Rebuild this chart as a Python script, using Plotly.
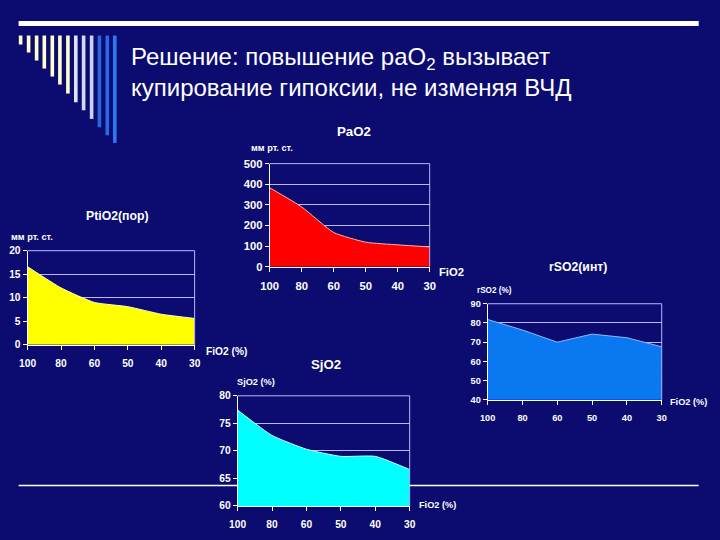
import plotly.graph_objects as go

W, H = 720, 540
BG = "#0b0b70"
GRID = "#b8b8ff"
# the photographed page comes out slightly shrunk and shifted; these undo it
SX, OX = 0.979, 8.4
SY, OY = 0.977, 6.5
K = 1.022

# FiO2 (%) categories shared by all four panels
fio2 = ["100", "80", "60", "50", "40", "30"]

pao2 = [383, 290, 166, 119, 106, 96]
ptio2 = [16.6, 12.1, 9.0, 8.1, 6.5, 5.6]
rso2 = [81.8, 76.3, 70.0, 74.2, 72.3, 67.6]
sjo2 = [77.4, 72.8, 70.3, 69.0, 69.0, 66.6]

pao2_ticks = [0, 100, 200, 300, 400, 500]
ptio2_ticks = [0, 5, 10, 15, 20]
rso2_ticks = [40, 50, 60, 70, 80, 90]
sjo2_ticks = [60, 65, 70, 75, 80]


def px(x):
    return (x - OX) / SX / W


def py(y):
    return 1 - (y - OY) / SY / H


# panel boxes in pixels: left, right, top, bottom
panels = [
    dict(y=pao2, ticks=pao2_ticks, box=(269, 429, 164, 267), fill="#ff0000",
         edge="#ffb0b0", shape="spline", fs=11),
    dict(y=ptio2, ticks=ptio2_ticks, box=(27, 194, 251, 345), fill="#ffff00",
         edge="#ffffc0", shape="spline", fs=10),
    dict(y=rso2, ticks=rso2_ticks, box=(487, 661, 304, 400), fill="#0a78f0",
         edge="#8ab8ff", shape="linear", fs=9),
    dict(y=sjo2, ticks=sjo2_ticks, box=(237, 409, 396, 506), fill="#00ffff",
         edge="#c0ffff", shape="spline", fs=10),
]

fig = go.Figure()
shapes = []
layout = {}

for i, p in enumerate(panels, start=1):
    xa = "x" if i == 1 else f"x{i}"
    ya = "y" if i == 1 else f"y{i}"
    l, r, t, b = p["box"]
    fig.add_trace(go.Scatter(
        x=list(range(len(fio2))), y=p["y"], xaxis=xa, yaxis=ya,
        mode="lines", fill="tozeroy", fillcolor=p["fill"],
        line=dict(color=p["edge"], width=1, shape=p["shape"], smoothing=0.5),
        hoverinfo="skip", showlegend=False,
    ))
    tickfont = dict(family="Liberation Sans, Arial", size=p["fs"] * K, color="white")
    layout["xaxis" if i == 1 else f"xaxis{i}"] = dict(
        domain=[px(l), px(r)], anchor=ya, range=[0, len(fio2) - 1],
        tickvals=list(range(len(fio2))), ticktext=[f"<b>{v}</b>" for v in fio2],
        showgrid=False, zeroline=False, showline=True, linecolor="white", linewidth=1,
        ticks="outside", ticklen=4, tickcolor="white", tickfont=tickfont,
        ticklabelstandoff=5, fixedrange=True,
    )
    layout["yaxis" if i == 1 else f"yaxis{i}"] = dict(
        domain=[py(b), py(t)], anchor=xa, range=[p["ticks"][0], p["ticks"][-1]],
        tickvals=p["ticks"], ticktext=[f"<b>{v}</b>" for v in p["ticks"]],
        showgrid=True, gridcolor=GRID, gridwidth=1, zeroline=False,
        showline=True, linecolor="white", linewidth=1,
        ticks="outside", ticklen=4, tickcolor="white", tickfont=tickfont,
        fixedrange=True,
    )
    # right and top border of the plot area
    shapes.append(dict(type="line", xref=f"{xa} domain", yref=f"{ya} domain",
                       x0=1, x1=1, y0=0, y1=1, line=dict(color=GRID, width=1)))
    shapes.append(dict(type="line", xref=f"{xa} domain", yref=f"{ya} domain",
                       x0=0, x1=1, y0=1, y1=1, line=dict(color=GRID, width=1)))

# slide decoration
shapes.append(dict(type="rect", xref="paper", yref="paper", x0=px(18), x1=px(698),
                   y0=py(26.5), y1=py(21.5), fillcolor="white", line=dict(width=0)))
shapes.append(dict(type="line", xref="paper", yref="paper", x0=px(18), x1=px(698),
                   y0=py(485.5), y1=py(485.5), line=dict(color="white", width=1.5),
                   layer="below"))

bar_x = [20, 28, 36, 43.7, 51.7, 59.3, 67.3, 75.2, 83, 91, 98.8, 106.7, 114.2]
bar_bottom = [45, 53, 61, 69, 77, 85, 94, 102.7, 110.7, 119.3, 127.7, 135.7, 143.3]
bar_col = ["#ffffcc"] * 7 + ["#dde4ff", "#d0dcff", "#c8d4ff"] + ["#2a66dd", "#2a6ae4", "#2b78f4"]
for x, yb, c in zip(bar_x, bar_bottom, bar_col):
    shapes.append(dict(type="rect", xref="paper", yref="paper", x0=px(x - 1.8), x1=px(x + 1.8),
                       y0=py(yb), y1=py(36), fillcolor=c, line=dict(width=0)))

ann_font = "Liberation Sans, Arial"


def note(text, x, y, size, anchor="center", bold=False):
    return dict(text=f"<b>{text}</b>" if bold else text, x=px(x), y=py(y),
                xref="paper", yref="paper", showarrow=False, xanchor=anchor,
                yanchor="middle", font=dict(family=ann_font, size=size * K, color="white"))


annotations = [
    note("Решение: повышение раO<sub>2</sub> вызывает", 128, 59, 23.5, "left"),
    note("купирование гипоксии, не изменяя ВЧД", 128, 88, 23.5, "left"),
    note("PaO2", 353, 132, 13, bold=True),
    note("мм рт. ст.", 248, 148, 9, "left", bold=True),
    note("FiO2", 436, 272, 11, "left", bold=True),
    note("PtiO2(пор)", 117, 216, 12, bold=True),
    note("мм рт. ст.", 8, 237, 9, "left", bold=True),
    note("FiO2 (%)", 203, 352, 10, "left", bold=True),
    note("rSO2(инт)", 577, 267, 12, bold=True),
    note("rSO2 (%)", 474, 291, 8, "left", bold=True),
    note("FiO2 (%)", 667, 402, 9, "left", bold=True),
    note("SjO2", 325, 365, 13, bold=True),
    note("SjO2 (%)", 234, 382, 9, "left", bold=True),
    note("FiO2 (%)", 416, 505, 9, "left", bold=True),
]

fig.update_layout(
    width=W, height=H, margin=dict(l=0, r=0, t=0, b=0),
    paper_bgcolor=BG, plot_bgcolor="rgba(0,0,0,0)",
    shapes=shapes, annotations=annotations, showlegend=False,
    font=dict(family=ann_font, color="white"),
    **layout,
)

fig.write_html(
    "out.html",
    config={"displayModeBar": False},
    post_script="document.body.style.margin='0px';document.body.style.overflow='hidden';"
                "document.body.style.background='" + BG + "';",
)
